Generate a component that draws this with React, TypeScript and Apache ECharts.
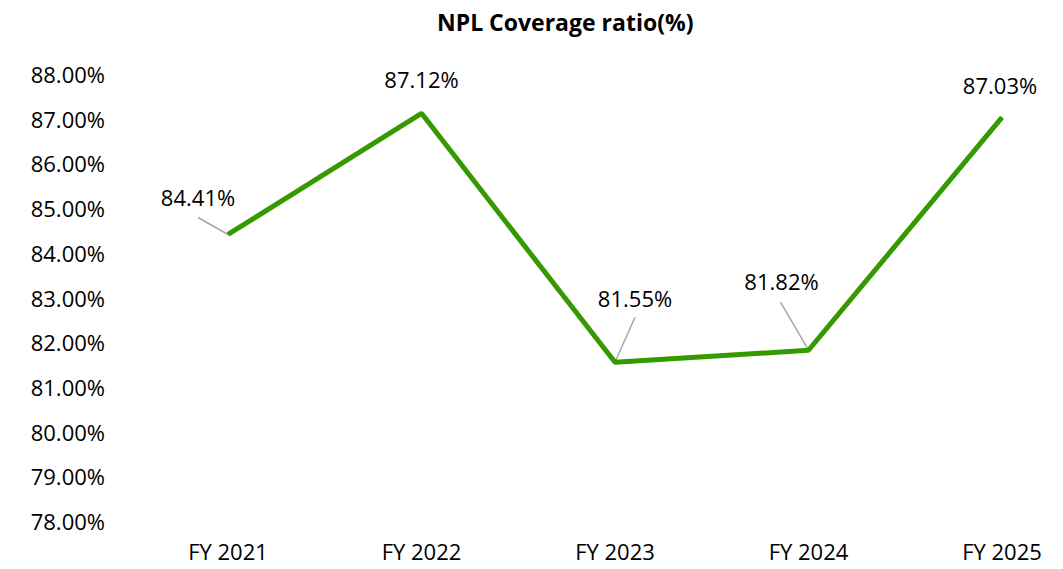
import React, { useEffect, useRef } from "react";
import * as echarts from "echarts";

const categories = ["FY 2021", "FY 2022", "FY 2023", "FY 2024", "FY 2025"];
const coverage = [84.41, 87.12, 81.55, 81.82, 87.03];
// label displacement from default "top" position
const labelShift = [
  [-30, -21],
  [0, -18],
  [20, -48],
  [-27, -53],
  [-2, -16],
];
// leader line end offsets from the point (null = no leader)
const leaderEnd: (number[] | null)[] = [[-30, -17], null, [20, -45], [-28, -48], null];

export default function App() {
  const ref = useRef<HTMLDivElement>(null);
  useEffect(() => {
    const chart = echarts.init(ref.current!, null, { renderer: "svg" });
    const font = "Open Sans";
    chart.setOption({
      animation: false,
      title: {
        text: "NPL Coverage ratio(%)",
        left: 432,
        top: 5,
        textStyle: { fontFamily: font, fontSize: 23, fontWeight: "bold", color: "#000" },
      },
      grid: { left: 228, right: 61, top: 74, bottom: 48 },
      xAxis: {
        type: "category",
        data: categories,
        boundaryGap: false,
        axisLine: { show: false },
        axisTick: { show: false },
        axisLabel: { fontFamily: font, fontSize: 22, color: "#000", margin: 19 },
      },
      yAxis: {
        type: "value",
        min: 78,
        max: 88,
        interval: 1,
        axisLine: { show: false },
        axisTick: { show: false },
        splitLine: { show: false },
        axisLabel: {
          fontFamily: font,
          fontSize: 22,
          color: "#000",
          margin: 123,
          formatter: (v: number) => v.toFixed(2) + "%",
        },
      },
      series: [
        {
          type: "custom",
          data: coverage.map((v, i) => [i, v]),
          silent: true,
          z: 1,
          renderItem: (params: any, api: any) => {
            const i = params.dataIndex;
            const end = leaderEnd[i];
            if (!end) return null;
            const p = api.coord([api.value(0), api.value(1)]);
            return {
              type: "line",
              shape: { x1: p[0], y1: p[1], x2: p[0] + end[0], y2: p[1] + end[1] },
              style: { stroke: "#a6a6a6", lineWidth: 1.5 },
            };
          },
        },
        {
          type: "line",
          data: coverage,
          z: 2,
          showSymbol: true,
          symbol: "circle",
          symbolSize: 1,
          itemStyle: { color: "#359a00" },
          lineStyle: { color: "#359a00", width: 5 },
          label: {
            show: true,
            position: "top",
            distance: 5,
            fontFamily: font,
            fontSize: 22,
            color: "#000",
            formatter: (p: any) => p.value.toFixed(2) + "%",
          },
          labelLayout: (p: any) => ({ dx: labelShift[p.dataIndex][0], dy: labelShift[p.dataIndex][1] }),
        },
      ],
    });
    return () => chart.dispose();
  }, []);
  return <div ref={ref} style={{ width: 1063, height: 569, position: "absolute", left: 0, top: 0 }} />;
}
